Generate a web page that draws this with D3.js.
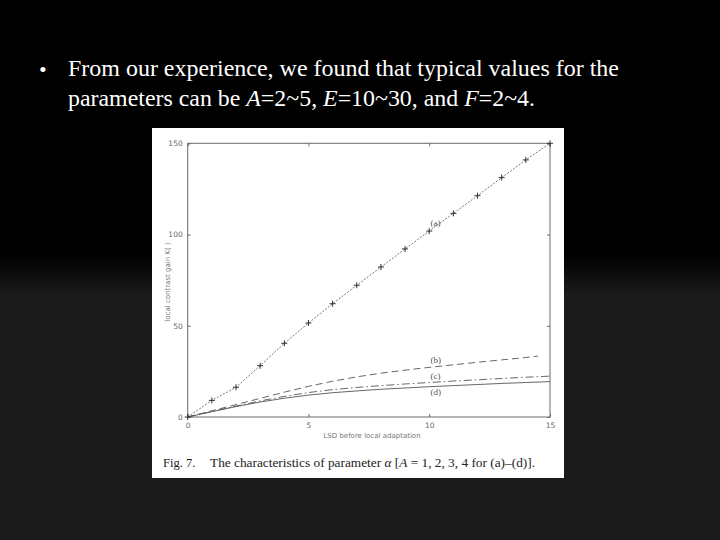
<!DOCTYPE html>
<html><head><meta charset="utf-8">
<script src="https://cdn.jsdelivr.net/npm/d3@7"></script>
<style>
html,body{margin:0;padding:0;background:#000;}
svg{display:block;}
</style></head>
<body>
<script>
// ---- data ----
const xValues = [0,1,2,3,4,5,6,7,8,9,10,11,12,13,14,15];
const seriesA = [0,9.1,16.3,28.1,40.4,51.5,62.1,72.2,82.2,92.1,101.9,111.6,121.3,131.2,140.9,150];
const xValuesB = [0,1,2,3,4,5,6,7,8,9,10,11,12,13,14,14.5];
const seriesB = [0,3.4,6.8,10.2,13.6,16.8,19.6,22,24,25.7,27.2,28.6,30,31.3,32.6,33.4];
const seriesC = [0,3,6,8.8,11.3,13.4,15,16.2,17.2,18.1,18.9,19.7,20.4,21.1,21.8,22.4];
const seriesD = [0,2.9,5.7,8.2,10.3,12,13.3,14.3,15.2,15.9,16.6,17.2,17.8,18.4,18.9,19.4];
const seriesLabels = ["(a)","(b)","(c)","(d)"];
const labelAnchors = [[10.05,104.5],[10.05,29.6],[10.05,20.8],[10.05,12]];
const xTicks = [0,5,10,15];
const yTicks = [0,50,100,150];
const xTickLabels = ["0","5","10","15"];
const yTickLabels = ["0","50","100","150"];
const xAxisLabel = "LSD before local adaptation";
const yAxisLabel = "local contrast gain K( )";
const bulletLine1 = "From our experience, we found that typical values for the";
const caption = "The characteristics of parameter";

const W = 720, H = 540;
const svg = d3.select("body").append("svg").attr("width", W).attr("height", H);

// background gradient
const defs = svg.append("defs");
const grad = defs.append("linearGradient").attr("id","bg").attr("x1",0).attr("x2",0).attr("y1",0).attr("y2",1);
grad.append("stop").attr("offset", "0%").attr("stop-color", "#000");
grad.append("stop").attr("offset", (255/540*100)+"%").attr("stop-color", "#000");
grad.append("stop").attr("offset", (295/540*100)+"%").attr("stop-color", "#1b1b1b");
grad.append("stop").attr("offset", "100%").attr("stop-color", "#1b1b1b");
svg.append("rect").attr("width", W).attr("height", H).attr("fill", "url(#bg)");

// bullet text
const tf = "'Liberation Serif','Times New Roman',serif";
svg.append("text").attr("x", 39).attr("y", 77).attr("fill", "#fff")
  .attr("font-family", tf).attr("font-size", 22).text("\u2022");
svg.append("text").attr("x", 68).attr("y", 76).attr("fill", "#fff")
  .attr("font-family", tf).attr("font-size", 23.5)
  .attr("textLength", 551).attr("lengthAdjust","spacingAndGlyphs").text(bulletLine1);
const l2 = svg.append("text").attr("x", 68).attr("y", 106).attr("fill", "#fff")
  .attr("font-family", tf).attr("font-size", 23.5)
  .attr("textLength", 467).attr("lengthAdjust","spacingAndGlyphs");
l2.append("tspan").text("parameters can be ");
l2.append("tspan").attr("font-style","italic").text("A");
l2.append("tspan").text("=2~5, ");
l2.append("tspan").attr("font-style","italic").text("E");
l2.append("tspan").text("=10~30, and ");
l2.append("tspan").attr("font-style","italic").text("F");
l2.append("tspan").text("=2~4.");

// figure box
svg.append("rect").attr("x", 152).attr("y", 128).attr("width", 412).attr("height", 350).attr("fill", "#fff");

const x = d3.scaleLinear().domain([0,15]).range([187.7, 550]);
const y = d3.scaleLinear().domain([0,150]).range([417, 143.3]);
const axisColor = "#6a6a6a";

// frame
svg.append("rect").attr("x", x(0)).attr("y", y(150)).attr("width", x(15)-x(0)).attr("height", y(0)-y(150))
  .attr("fill","none").attr("stroke", axisColor).attr("stroke-width", 1);

// axes (ticks inward)
const gx = svg.append("g").attr("transform", `translate(0,${y(0)})`)
  .call(d3.axisBottom(x).tickValues(xTicks).tickSize(-3).tickPadding(6).tickFormat((d,i)=>xTickLabels[i]));
const gxt = svg.append("g").attr("transform", `translate(0,${y(150)})`)
  .call(d3.axisTop(x).tickValues(xTicks).tickSize(-3).tickFormat(""));
const gy = svg.append("g").attr("transform", `translate(${x(0)},0)`)
  .call(d3.axisLeft(y).tickValues(yTicks).tickSize(-3).tickPadding(5).tickFormat((d,i)=>yTickLabels[i]));
const gyr = svg.append("g").attr("transform", `translate(${x(15)},0)`)
  .call(d3.axisRight(y).tickValues(yTicks).tickSize(-3).tickFormat(""));
[gx,gxt,gy,gyr].forEach(g=>{
  g.select(".domain").remove();
  g.selectAll("line").attr("stroke", axisColor);
  g.selectAll("text").attr("fill","#666").attr("font-family","'DejaVu Sans',sans-serif").attr("font-size",7.5);
});

// axis labels
svg.append("text").attr("x", 372).attr("y", 438).attr("text-anchor","middle")
  .attr("font-family","'DejaVu Sans',sans-serif").attr("font-size",7).attr("fill","#777").text(xAxisLabel);
svg.append("text").attr("transform","translate(170,282) rotate(-90)").attr("text-anchor","middle")
  .attr("font-family","'DejaVu Sans',sans-serif").attr("font-size",7).attr("fill","#777").text(yAxisLabel);

// lines
const line = d3.line().x(d=>x(d[0])).y(d=>y(d[1]));
const dataA = xValues.map((v,i)=>[v, seriesA[i]]);
const dataB = xValuesB.map((v,i)=>[v, seriesB[i]]);
const dataC = xValues.map((v,i)=>[v, seriesC[i]]);
const dataD = xValues.map((v,i)=>[v, seriesD[i]]);
svg.append("path").attr("d", line(dataA)).attr("fill","none").attr("stroke","#666").attr("stroke-width",0.9).attr("stroke-dasharray","2,1.5");
svg.append("path").attr("d", line(dataB)).attr("fill","none").attr("stroke","#555").attr("stroke-width",0.9).attr("stroke-dasharray","7,4");
svg.append("path").attr("d", line(dataC)).attr("fill","none").attr("stroke","#555").attr("stroke-width",0.9).attr("stroke-dasharray","8,3,1.5,3");
svg.append("path").attr("d", line(dataD)).attr("fill","none").attr("stroke","#555").attr("stroke-width",0.9);

// plus markers
svg.append("g").selectAll("path").data(dataA).join("path")
  .attr("d", d=>`M${x(d[0])-3},${y(d[1])}H${x(d[0])+3}M${x(d[0])},${y(d[1])-3}V${y(d[1])+3}`)
  .attr("stroke","#333").attr("stroke-width",1);

// series labels
svg.append("g").selectAll("text").data(seriesLabels).join("text")
  .attr("x",(d,i)=>x(labelAnchors[i][0])).attr("y",(d,i)=>y(labelAnchors[i][1]))
  .attr("font-family", tf).attr("font-size",9).attr("fill","#555").text(d=>d);

// caption
svg.append("text").attr("x", 163).attr("y", 467).attr("fill","#222")
  .attr("font-family", tf).attr("font-size", 12.5).text("Fig. 7.");
const cap = svg.append("text").attr("x", 210).attr("y", 467).attr("fill","#222")
  .attr("font-family", tf).attr("font-size", 12.5).attr("textLength", 325).attr("lengthAdjust","spacingAndGlyphs");
cap.append("tspan").text(caption + " ");
cap.append("tspan").attr("font-style","italic").text("\u03b1");
cap.append("tspan").text(" [");
cap.append("tspan").attr("font-style","italic").text("A");
cap.append("tspan").text(" = 1, 2, 3, 4 for (a)\u2013(d)].");
</script>
</body></html>
